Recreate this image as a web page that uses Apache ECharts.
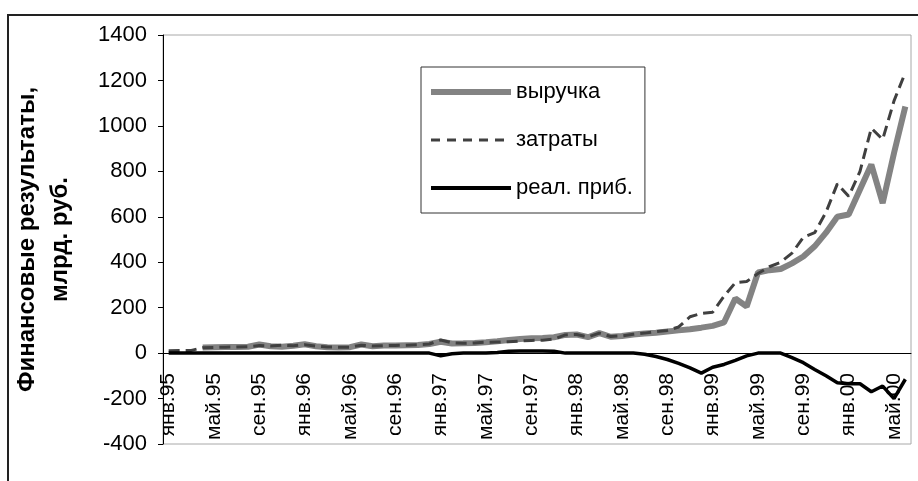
<!DOCTYPE html>
<html>
<head>
<meta charset="utf-8">
<script src="https://cdn.jsdelivr.net/npm/echarts@6/dist/echarts.min.js"></script>
<style>
	html, body { margin: 0; padding: 0; background: #fff; }
	#chart { width: 918px; height: 481px; }
</style>
</head>
<body>
<div id="chart"></div>
<script>
// месяцы янв.95 - июн.00
const categories = [
	'янв.95','фев.95','мар.95','апр.95','май.95','июн.95','июл.95','авг.95','сен.95','окт.95','ноя.95','дек.95',
	'янв.96','фев.96','мар.96','апр.96','май.96','июн.96','июл.96','авг.96','сен.96','окт.96','ноя.96','дек.96',
	'янв.97','фев.97','мар.97','апр.97','май.97','июн.97','июл.97','авг.97','сен.97','окт.97','ноя.97','дек.97',
	'янв.98','фев.98','мар.98','апр.98','май.98','июн.98','июл.98','авг.98','сен.98','окт.98','ноя.98','дек.98',
	'янв.99','фев.99','мар.99','апр.99','май.99','июн.99','июл.99','авг.99','сен.99','окт.99','ноя.99','дек.99',
	'янв.00','фев.00','мар.00','апр.00','май.00','июн.00'
];

const revenue = [
	null, null, null, 25, 26, 27, 27, 28, 38, 30, 28, 32,
	39, 30, 26, 25, 26, 38, 30, 33, 34, 35, 36, 40,
	50, 42, 43, 45, 48, 52, 58, 62, 65, 66, 70, 80,
	82, 70, 88, 72, 75, 82, 86, 90, 95, 100, 105, 112,
	120, 135, 240, 205, 355, 365, 370, 395, 425, 470, 530, 600,
	610, 720, 830, 660, 880, 1085
];

const costs = [
	10, 11, 12, 24, 25, 26, 27, 28, 33, 31, 35, 32,
	37, 31, 27, 26, 26, 35, 31, 33, 34, 35, 37, 40,
	58, 45, 43, 45, 48, 49, 50, 53, 56, 57, 62, 80,
	82, 71, 88, 73, 76, 83, 88, 95, 100, 115, 160, 175,
	180, 250, 310, 315, 350, 380, 400, 440, 510, 530, 620, 745,
	690, 800, 990, 940, 1110, 1235
];

const profit = [
	0, 0, 0, 0, 0, 0, 0, 0, 0, 0, 0, 0,
	0, 0, 0, 0, 0, 0, 0, 0, 0, 0, 0, 0,
	-12, -3, 0, 0, 0, 3, 8, 9, 9, 9, 8, 0,
	0, 0, 0, 0, 0, 0, -5, -15, -28, -45, -65, -88,
	-62, -50, -32, -12, 0, 0, 0, -20, -42, -72, -100, -130,
	-135, -135, -170, -145, -200, -115
];

const yTicks = { min: -400, max: 1400, interval: 200 };

const font = 'Liberation Sans, Arial, sans-serif';
const myChart = echarts.init(document.getElementById('chart'));

const option = {
	animation: false,
	backgroundColor: '#fff',
	textStyle: { fontFamily: font, color: '#000' },
	graphic: [
		{
			// рамка области диаграммы
			type: 'rect',
			silent: true,
			z: -1,
			shape: { x: 8, y: 15, width: 940, height: 500 },
			style: { fill: 'none', stroke: '#222', lineWidth: 2 }
		}
	],
	grid: {
		left: 163,
		right: 7,
		top: 35,
		bottom: 37,
		show: true,
		borderColor: '#a8a8a8',
		borderWidth: 1,
		containLabel: false,
		outerBoundsMode: 'none'
	},
	legend: {
		orient: 'vertical',
		left: 421,
		top: 67,
		padding: [14, 12, 14, 7],
		itemWidth: 80,
		itemHeight: 14,
		itemGap: 26,
		backgroundColor: '#fff',
		borderColor: '#333',
		borderWidth: 1,
		borderRadius: 0,
		itemStyle: { color: 'rgba(0,0,0,0)', borderWidth: 0, opacity: 0 },
		textStyle: { fontFamily: font, fontSize: 22, color: '#000' },
		data: [
			{ name: 'выручка', lineStyle: { color: '#838383', width: 6, type: 'solid' } },
			{ name: 'затраты', lineStyle: { color: '#404040', width: 3, type: [9, 7] } },
			{ name: 'реал. приб.', lineStyle: { color: '#000', width: 4, type: 'solid' } }
		]
	},
	xAxis: [
		{
			// ось на нуле: линия и засечки
			type: 'category',
			data: categories,
			boundaryGap: true,
			axisLine: { onZero: true, lineStyle: { color: '#000', width: 1 } },
			axisTick: { interval: 3, length: 5, lineStyle: { color: '#000' } },
			axisLabel: { show: false },
			splitLine: { show: false }
		},
		{
			// подписи месяцев под нулём
			type: 'category',
			data: categories,
			position: 'bottom',
			boundaryGap: true,
			axisLine: { show: false, onZero: false },
			axisTick: { show: false },
			axisLabel: {
				interval: 3,
				rotate: 90,
				margin: -71,
				fontSize: 21,
				color: '#000',
				fontFamily: font
			},
			splitLine: { show: false }
		}
	],
	yAxis: {
		type: 'value',
		min: yTicks.min,
		max: yTicks.max,
		interval: yTicks.interval,
		name: 'Финансовые результаты,\nмлрд. руб.',
		nameLocation: 'middle',
		nameRotate: 90,
		nameGap: 86,
		nameTextStyle: {
			fontFamily: font,
			fontSize: 24,
			fontWeight: 'bold',
			lineHeight: 33,
			color: '#000'
		},
		axisLine: { show: true, lineStyle: { color: '#000', width: 1 } },
		axisTick: { show: true, length: 5, lineStyle: { color: '#000' } },
		axisLabel: {
			margin: 16,
			fontSize: 22,
			color: '#000',
			fontFamily: font,
			formatter: (v) => String(v)
		},
		splitLine: { show: false }
	},
	series: [
		{
			name: 'выручка',
			type: 'line',
			data: revenue,
			symbol: 'none',
			lineStyle: { color: '#838383', width: 6 },
			itemStyle: { color: '#838383' }
		},
		{
			name: 'затраты',
			type: 'line',
			data: costs,
			symbol: 'none',
			lineStyle: { color: '#404040', width: 3, type: [11, 6] },
			itemStyle: { color: '#404040' }
		},
		{
			name: 'реал. приб.',
			type: 'line',
			data: profit,
			symbol: 'none',
			lineStyle: { color: '#000', width: 3.5 },
			itemStyle: { color: '#000' }
		}
	]
};

myChart.setOption(option);

window.addEventListener('resize', () => {
	myChart.resize();
});
</script>
</body>
</html>
